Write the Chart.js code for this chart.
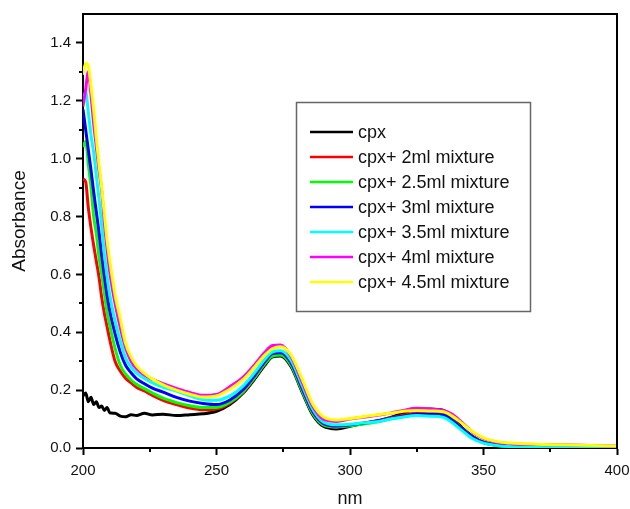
<!DOCTYPE html>
<html>
<head>
<meta charset="utf-8">
<script src="https://cdn.jsdelivr.net/npm/chart.js@4.4.0/dist/chart.umd.min.js"></script>
<style>
  html, body { margin: 0; padding: 0; background: #fff; }
  #wrap { width: 630px; height: 509px; }
</style>
</head>
<body>
<div id="wrap"><canvas id="spectraCanvas" width="630" height="509"></canvas></div>
<script>
// wavelength grid (nm), shared by every series
const wavelengths = [200, 201, 202, 203, 204, 205, 206, 207, 208, 209, 210,
    212, 214, 216, 218, 220,
    223, 226, 230, 235, 240, 245, 250,
    255, 260, 264, 268, 271, 274, 278, 282, 286, 290,
    295, 300, 305, 310, 315, 320, 325, 330, 335,
    338, 342, 346, 350, 355, 360,
    370, 380, 390, 400];

const seriesNames = ['cpx', 'cpx+ 2ml mixture', 'cpx+ 2.5ml mixture', 'cpx+ 3ml mixture',
    'cpx+ 3.5ml mixture', 'cpx+ 4ml mixture', 'cpx+ 4.5ml mixture'];
const seriesColors = ['#000000', '#ff0000', '#00ff00', '#0000ff', '#00ffff', '#ff00ff', '#ffff00'];

const cpx = [0.18, 0.19, 0.16, 0.175, 0.15, 0.16, 0.14, 0.145, 0.13, 0.14, 0.122,
    0.12, 0.11, 0.108, 0.115, 0.112,
    0.12, 0.114, 0.117, 0.112, 0.115, 0.118, 0.127,
    0.15, 0.19, 0.235, 0.285, 0.315, 0.318, 0.28, 0.195, 0.115, 0.075,
    0.066, 0.075, 0.085, 0.092, 0.105, 0.12, 0.135, 0.135, 0.13,
    0.112, 0.07, 0.04, 0.02, 0.01, 0.006,
    0.004, 0.003, 0.003, 0.002];
const mix2 = [0.93, 0.92, 0.83, 0.76, 0.70, 0.645, 0.59, 0.52, 0.465, 0.42, 0.375,
    0.30, 0.265, 0.24, 0.225, 0.21,
    0.197, 0.182, 0.165, 0.15, 0.138, 0.132, 0.135,
    0.155, 0.193, 0.24, 0.29, 0.32, 0.323, 0.285, 0.2, 0.12, 0.08,
    0.072, 0.078, 0.086, 0.094, 0.104, 0.113, 0.122, 0.122, 0.117,
    0.1, 0.068, 0.038, 0.02, 0.01, 0.006,
    0.004, 0.004, 0.003, 0.003];
const mix25 = [1.04, 1.06, 0.98, 0.90, 0.80, 0.74, 0.66, 0.60, 0.535, 0.47, 0.425,
    0.345, 0.285, 0.255, 0.235, 0.22,
    0.205, 0.19, 0.172, 0.157, 0.146, 0.14, 0.14,
    0.158, 0.195, 0.24, 0.29, 0.318, 0.321, 0.285, 0.2, 0.12, 0.08,
    0.073, 0.077, 0.083, 0.09, 0.1, 0.108, 0.115, 0.115, 0.112,
    0.098, 0.066, 0.036, 0.018, 0.009, 0.005,
    0.004, 0.003, 0.003, 0.003];
const mix3 = [1.17, 1.10, 1.03, 0.96, 0.885, 0.815, 0.745, 0.665, 0.595, 0.53, 0.475,
    0.395, 0.33, 0.285, 0.26, 0.24,
    0.222, 0.207, 0.193, 0.175, 0.162, 0.154, 0.15,
    0.166, 0.202, 0.247, 0.297, 0.326, 0.329, 0.293, 0.208, 0.127, 0.085,
    0.076, 0.08, 0.086, 0.093, 0.102, 0.11, 0.117, 0.117, 0.113,
    0.098, 0.067, 0.037, 0.019, 0.01, 0.006,
    0.004, 0.004, 0.003, 0.003];
const mix35 = [1.20, 1.23, 1.16, 1.08, 1.02, 0.94, 0.86, 0.77, 0.67, 0.595, 0.53,
    0.44, 0.37, 0.31, 0.28, 0.26,
    0.24, 0.225, 0.21, 0.197, 0.18, 0.167, 0.165,
    0.18, 0.215, 0.257, 0.305, 0.332, 0.336, 0.302, 0.218, 0.135, 0.09,
    0.08, 0.082, 0.087, 0.091, 0.1, 0.107, 0.112, 0.11, 0.106,
    0.09, 0.06, 0.032, 0.017, 0.009, 0.005,
    0.004, 0.003, 0.003, 0.003];
const mix4 = [1.18, 1.24, 1.30, 1.22, 1.12, 1.04, 0.96, 0.89, 0.78, 0.69, 0.61,
    0.5, 0.415, 0.345, 0.3, 0.275,
    0.252, 0.237, 0.222, 0.206, 0.192, 0.182, 0.185,
    0.212, 0.245, 0.285, 0.33, 0.354, 0.356, 0.315, 0.23, 0.145, 0.1,
    0.092, 0.1, 0.106, 0.113, 0.12, 0.13, 0.137, 0.135, 0.13,
    0.118, 0.088, 0.055, 0.033, 0.02, 0.015,
    0.012, 0.011, 0.009, 0.007];
const mix45 = [1.29, 1.33, 1.32, 1.25, 1.17, 1.07, 0.98, 0.90, 0.81, 0.72, 0.65,
    0.53, 0.445, 0.36, 0.315, 0.285,
    0.258, 0.238, 0.218, 0.2, 0.186, 0.176, 0.18,
    0.203, 0.237, 0.277, 0.32, 0.343, 0.35, 0.32, 0.24, 0.153, 0.108,
    0.097, 0.102, 0.108, 0.115, 0.12, 0.127, 0.13, 0.128, 0.125,
    0.112, 0.085, 0.056, 0.035, 0.022, 0.017,
    0.013, 0.011, 0.009, 0.007];

const seriesValues = [cpx, mix2, mix25, mix3, mix35, mix4, mix45];

const xRange = [200, 400];
const yRange = [0, 1.5];
const xAxisTitle = 'nm';
const yAxisTitle = 'Absorbance';

const FONT = "'Liberation Sans', Arial, sans-serif";

// frame, minor ticks, axis titles and the boxed legend
const decorPlugin = {
    id: 'decor',
    afterDraw(chart) {
        const ctx = chart.ctx;
        const a = chart.chartArea;
        const xs = chart.scales.x;
        const ys = chart.scales.y;
        ctx.save();

        ctx.strokeStyle = '#000';
        ctx.lineWidth = 2;
        ctx.beginPath();
        ctx.moveTo(a.left, a.top);
        ctx.lineTo(a.right, a.top);
        ctx.lineTo(a.right, a.bottom);
        ctx.stroke();

        // minor ticks halfway between the major ones
        ctx.beginPath();
        const xt = xs.ticks;
        for (let i = 0; i < xt.length - 1; i++) {
            const px = Math.round(xs.getPixelForValue((xt[i].value + xt[i + 1].value) / 2));
            ctx.moveTo(px, a.bottom);
            ctx.lineTo(px, a.bottom + 4);
        }
        const yt = ys.ticks;
        const ystep = yt[1].value - yt[0].value;
        for (let i = 0; i < yt.length; i++) {
            const v = yt[i].value + ystep / 2;
            if (v >= ys.max - 1e-9) continue;
            const py = Math.round(ys.getPixelForValue(v));
            ctx.moveTo(a.left, py);
            ctx.lineTo(a.left - 4, py);
        }
        ctx.stroke();

        // axis titles
        ctx.fillStyle = '#111';
        ctx.textAlign = 'center';
        ctx.textBaseline = 'alphabetic';
        ctx.font = '18px ' + FONT;
        ctx.fillText(xAxisTitle, (a.left + a.right) / 2, 504);
        ctx.save();
        ctx.translate(25, 221);
        ctx.rotate(-Math.PI / 2);
        ctx.font = '19px ' + FONT;
        ctx.fillText(yAxisTitle, 0, 0);
        ctx.restore();

        // legend box
        const box = {x: 296.5, y: 102.5, w: 234, h: 209};
        ctx.fillStyle = '#fff';
        ctx.fillRect(box.x, box.y, box.w, box.h);
        ctx.strokeStyle = '#666';
        ctx.lineWidth = 1.5;
        ctx.strokeRect(box.x, box.y, box.w, box.h);

        ctx.font = '18px ' + FONT;
        ctx.textAlign = 'left';
        ctx.textBaseline = 'middle';
        chart.data.datasets.forEach((ds, i) => {
            const y = 132 + i * 25;
            ctx.strokeStyle = ds.borderColor;
            ctx.lineWidth = 2.5;
            ctx.beginPath();
            ctx.moveTo(310, y);
            ctx.lineTo(353, y);
            ctx.stroke();
            ctx.fillStyle = '#111';
            ctx.fillText(ds.label, 358, y + 1);
        });

        ctx.restore();
    }
};

const datasets = seriesNames.map((name, i) => ({
    label: name,
    data: wavelengths.map((w, j) => ({x: w, y: seriesValues[i][j]})),
    borderColor: seriesColors[i],
    backgroundColor: seriesColors[i],
    borderWidth: 3,
    pointRadius: 0,
    cubicInterpolationMode: 'monotone',
    order: seriesNames.length - 1 - i
}));

new Chart(document.getElementById('spectraCanvas').getContext('2d'), {
    type: 'line',
    data: { datasets: datasets },
    options: {
        responsive: false,
        animation: false,
        layout: { padding: { top: 14, right: 13, left: 0, bottom: 0 } },
        plugins: {
            legend: { display: false },
            tooltip: { enabled: false }
        },
        scales: {
            x: {
                type: 'linear',
                min: xRange[0],
                max: xRange[1],
                afterFit: (s) => { s.height = 61; s.paddingLeft = 0; s.paddingRight = 0; },
                grid: { drawOnChartArea: false, drawTicks: true, tickLength: 7, tickWidth: 2, tickColor: '#000' },
                border: { display: true, color: '#000', width: 2 },
                ticks: {
                    stepSize: 50,
                    padding: 7,
                    color: '#111',
                    font: { family: FONT, size: 15 },
                    maxRotation: 0
                }
            },
            y: {
                min: yRange[0],
                max: yRange[1],
                afterFit: (s) => { s.width = 83; s.paddingTop = 0; s.paddingBottom = 0; },
                grid: { drawOnChartArea: false, drawTicks: true, tickLength: 7, tickWidth: 2, tickColor: '#000' },
                border: { display: true, color: '#000', width: 2 },
                ticks: {
                    stepSize: 0.2,
                    includeBounds: false,
                    padding: 5,
                    color: '#111',
                    font: { family: FONT, size: 15 },
                    callback: (v) => v.toFixed(1)
                }
            }
        }
    },
    plugins: [decorPlugin]
});
</script>
</body>
</html>
